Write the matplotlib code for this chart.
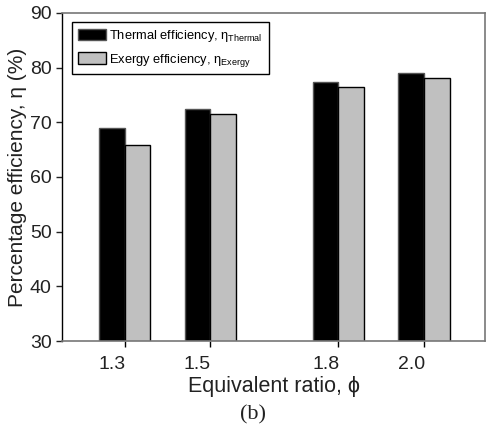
import numpy as np
import matplotlib
matplotlib.use("Agg")
import matplotlib.pyplot as plt

plt.rcParams['font.family'] = ['Liberation Sans', 'DejaVu Sans']
plt.rcParams['mathtext.fontset'] = 'custom'
plt.rcParams['mathtext.rm'] = 'Liberation Sans'
plt.rcParams['mathtext.it'] = 'Liberation Sans:italic'

# data
ratio = [1.3, 1.5, 1.8, 2.0]
ratio_labels = ['1.3', '1.5', '1.8', '2.0']
thermal = [68.9, 72.5, 77.4, 79.0]
exergy = [65.8, 71.5, 76.5, 78.1]

w = 0.06
fig = plt.figure(figsize=(4.88, 4.32), dpi=100)
ax = fig.add_axes([0.127, 0.2106, 0.867, 0.7594])

x = np.array(ratio)
ax.bar(x - w, thermal, width=w, align='edge', color='black',
       edgecolor='#555555', linewidth=1.0, label=r'Thermal efficiency, η$_{\mathrm{Thermal}}$')
ax.bar(x, exergy, width=w, align='edge', color='#c0c0c0',
       edgecolor='black', linewidth=1.0, label=r'Exergy efficiency, η$_{\mathrm{Exergy}}$')

ax.set_xlim(1.153, 2.143)
ax.set_ylim(30, 90)
ax.set_yticks(range(30, 91, 10))

# tick marks at group position, labels centred on the black bar
ax.set_xticks(x)
ax.set_xticklabels([])
ax.set_xticks(x - w / 2, minor=True)
ax.set_xticklabels(ratio_labels, minor=True)
ax.tick_params(axis='x', which='minor', length=0, pad=11, labelsize=14, colors='#222222')
ax.tick_params(axis='x', which='major', length=4, width=1, direction='out')
ax.tick_params(axis='y', length=4, width=1, direction='out', labelsize=14, colors='#222222')
ax.tick_params(axis='both', labelcolor='#222222')

for s in ['top', 'right', 'bottom']:
    ax.spines[s].set_color('#777777')
    ax.spines[s].set_linewidth(1.2)
ax.spines['left'].set_color('black')
ax.spines['left'].set_linewidth(1.0)

ax.set_ylabel('Percentage efficiency, η (%)', fontsize=15, color='#222222', labelpad=2)
ax.set_xlabel('Equivalent ratio, ϕ', fontsize=15.5, color='#222222', labelpad=2)

leg = ax.legend(loc='upper left', bbox_to_anchor=(0.0236, 0.9726), fontsize=9.3,
                fancybox=False, edgecolor='black', framealpha=1,
                handlelength=2.2, handleheight=1.0, handletextpad=0.25,
                borderpad=0.45, labelspacing=0.6, borderaxespad=0)
leg.get_frame().set_linewidth(1.0)

fig.text(0.518, 0.039, '(b)', fontsize=16, family='Liberation Serif',
         ha='center', va='center', color='#222222')

fig.savefig('out.png', dpi=100)
